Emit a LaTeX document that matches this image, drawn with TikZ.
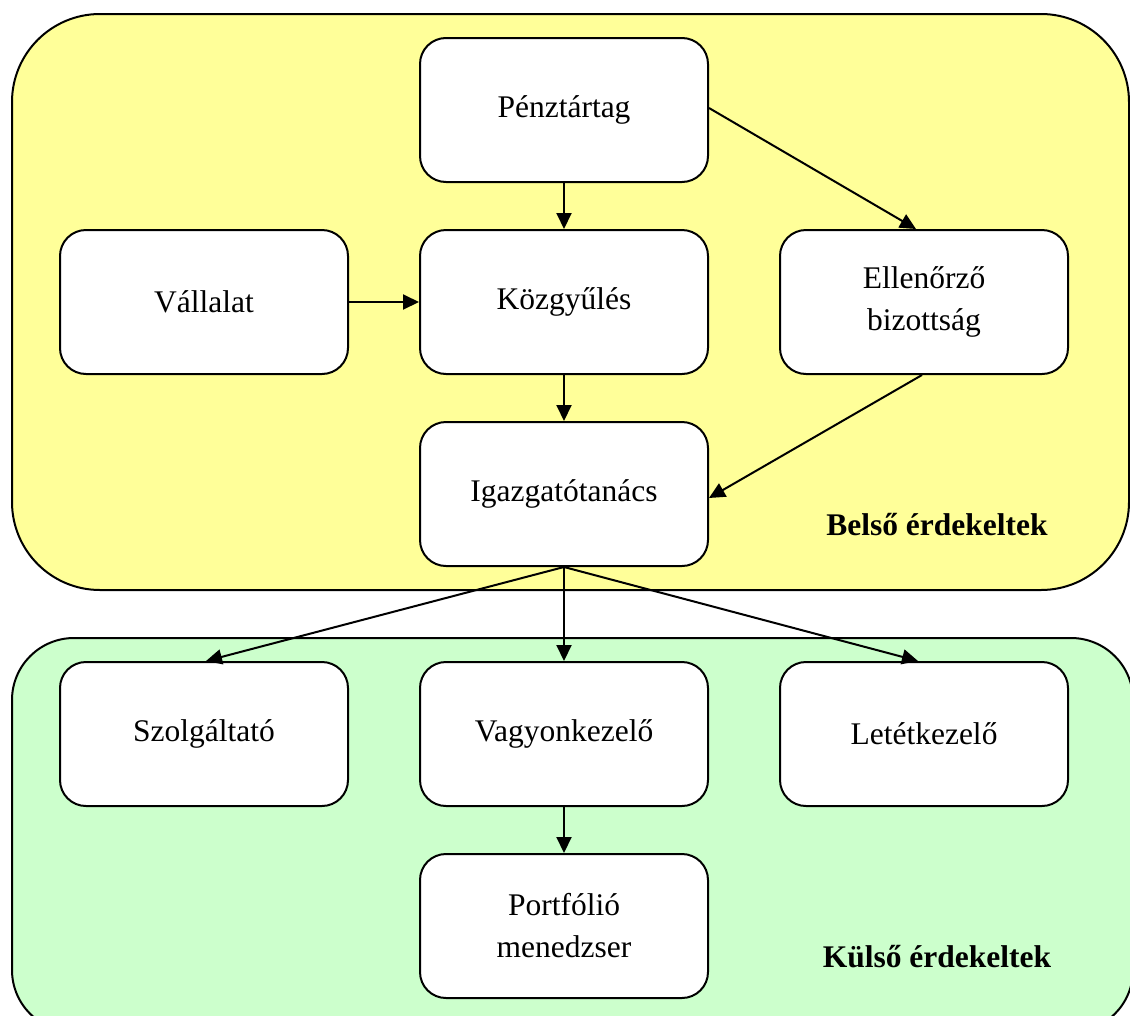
\documentclass[tikz,border=0pt]{standalone}
\usepackage{fontspec}
\setmainfont{Liberation Serif}
\usetikzlibrary{arrows.meta}
\definecolor{inner}{HTML}{FFFF99}
\definecolor{outer}{HTML}{CCFFCC}
\tikzset{
  stakebox/.style={draw, line width=2pt, fill=white, rounded corners=26pt,
    minimum width=288pt, minimum height=144pt, align=center, inner sep=0pt,
    font=\fontsize{31.5}{42}\selectfont},
  conn/.style={draw, line width=2pt, -{Triangle[length=16pt,width=15pt]}},
  grp/.style={draw, line width=2pt},
  grplabel/.style={font=\fontsize{31.5}{38}\selectfont\bfseries}
}
\begin{document}
\begin{tikzpicture}[x=1pt,y=-1pt]
\useasboundingbox (0,0) rectangle (1130,1015);
\clip (0,0) rectangle (1130,1015);
\fill[white] (0,0) rectangle (1130,1015);
\path[grp, fill=inner, rounded corners=88pt] (12,14) rectangle (1129,590);
\path[grp, fill=outer, rounded corners=62pt] (12,638) rectangle (1133,1032);
\node[stakebox] (penz) at (564,110) {Pénztártag};
\node[stakebox] (vall) at (204,302) {Vállalat};
\node[stakebox] (kozg) at (564,302) {Közgyűlés};
\node[stakebox] (ell) at (924,302) {Ellenőrző\\bizottság};
\node[stakebox] (igaz) at (564,494) {Igazgatótanács};
\node[stakebox] (szolg) at (204,734) {Szolgáltató};
\node[stakebox] (vagy) at (564,734) {Vagyonkezelő};
\node[stakebox] (letet) at (924,734) {Letétkezelő};
\node[stakebox] (port) at (564,926) {Portfólió\\menedzser};
\node[grplabel] (belso) at (937,525) {Belső érdekeltek};
\node[grplabel] (kulso) at (937,957) {Külső érdekeltek};
\path[conn] (penz.south) -- (kozg.north);
\path[conn] ([yshift=2pt]penz.east) -- ([xshift=-8pt]ell.north);
\path[conn] (vall.east) -- (kozg.west);
\path[conn] (kozg.south) -- (igaz.north);
\path[conn] ([xshift=-2pt]ell.south) -- ([yshift=-4pt]igaz.east);
\path[conn] (igaz.south) -- ([xshift=2pt]szolg.north);
\path[conn] (igaz.south) -- (vagy.north);
\path[conn] (igaz.south) -- ([xshift=-6pt]letet.north);
\path[conn] (vagy.south) -- (port.north);
\end{tikzpicture}
\end{document}
